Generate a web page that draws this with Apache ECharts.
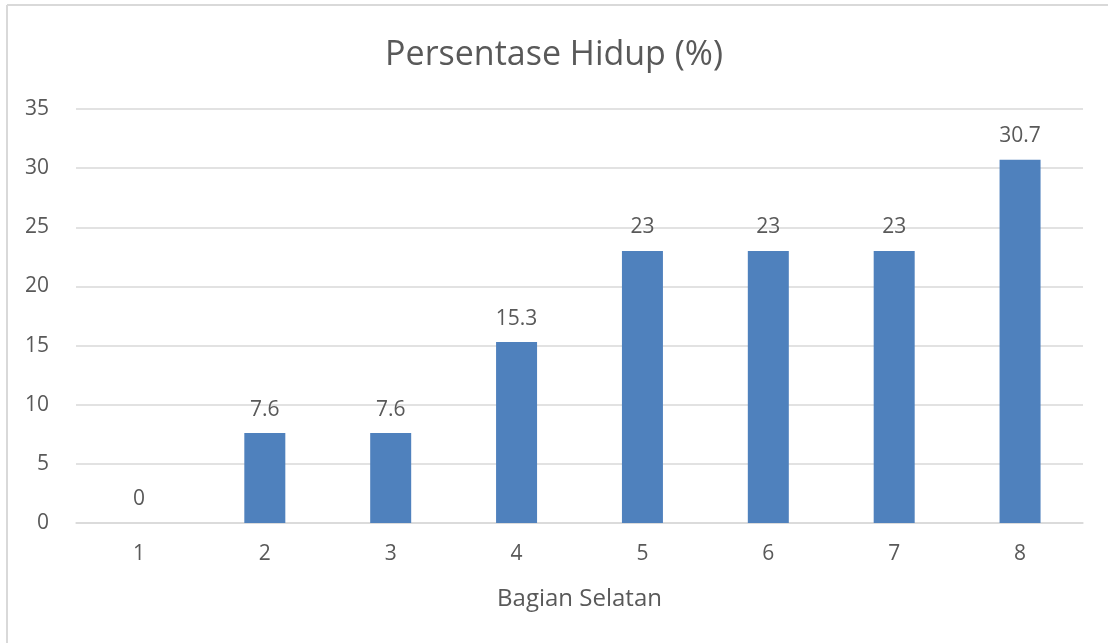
<!DOCTYPE html>
<html>
<head>
<meta charset="utf-8">
<script src="https://cdn.jsdelivr.net/npm/echarts@6/dist/echarts.min.js"></script>
<style>
  html, body { margin: 0; padding: 0; background: #fff; }
  #chart { width: 1108px; height: 643px; }
</style>
</head>
<body>
<div id="chart"></div>
<script>
const titleText = 'Persentase Hidup (%)';
const xAxisName = 'Bagian Selatan';
const categories = ['1', '2', '3', '4', '5', '6', '7', '8'];
const values = [0, 7.6, 7.6, 15.3, 23, 23, 23, 30.7];

const textColor = '#595959';
const fontFam = '"Open Sans", sans-serif';

const chart = echarts.init(document.getElementById('chart'), null, { renderer: 'canvas' });
chart.setOption({
  backgroundColor: '#ffffff',
  animation: false,
  graphic: [
    { type: 'line', shape: { x1: 7, y1: 5, x2: 1108, y2: 5 }, style: { stroke: '#D9D9D9', lineWidth: 2 } },
    { type: 'line', shape: { x1: 7, y1: 5, x2: 7, y2: 643 }, style: { stroke: '#D9D9D9', lineWidth: 2 } }
  ],
  title: {
    text: titleText,
    left: 'center',
    top: 33,
    textStyle: { color: textColor, fontSize: 34, fontWeight: 'normal', fontFamily: fontFam }
  },
  grid: { left: 76, right: 25, top: 109, bottom: 120, containLabel: false },
  xAxis: {
    type: 'category',
    data: categories,
    name: xAxisName,
    nameLocation: 'middle',
    nameGap: 64,
    nameTextStyle: { color: textColor, fontSize: 24, fontFamily: fontFam },
    axisLine: { lineStyle: { color: '#D9D9D9', width: 1.5 } },
    axisTick: { show: false },
    axisLabel: { color: textColor, fontSize: 21, fontFamily: fontFam, margin: 21 }
  },
  yAxis: {
    type: 'value',
    min: 0,
    max: 35,
    interval: 5,
    axisLine: { show: false },
    axisTick: { show: false },
    axisLabel: { color: textColor, fontSize: 21, fontFamily: fontFam, margin: 27 },
    splitLine: { lineStyle: { color: '#D9D9D9', width: 1.5 } }
  },
  series: [{
    type: 'bar',
    data: values,
    barWidth: 41,
    itemStyle: { color: '#4F81BD' },
    label: {
      show: true,
      position: 'top',
      distance: 13,
      color: textColor,
      fontSize: 21,
      fontFamily: fontFam
    }
  }]
});
</script>
</body>
</html>
